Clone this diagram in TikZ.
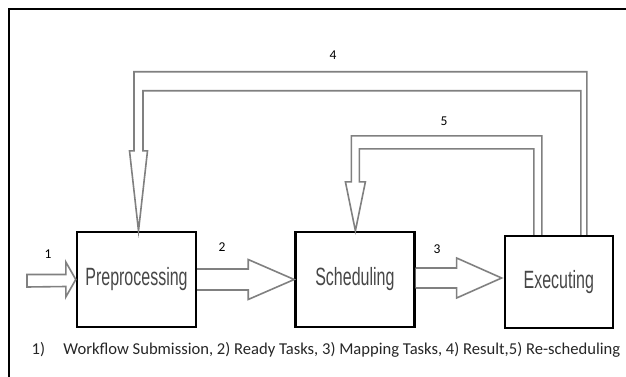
\documentclass[tikz,border=0pt]{standalone}
\usepackage{fontspec}
\setmainfont{Carlito}
\newfontfamily\narrowfont[FakeStretch=0.64]{Liberation Sans}
\usetikzlibrary{positioning,calc}

\begin{document}
\begin{tikzpicture}[
        x=1pt, y=-1pt,
        stage/.style={draw, line width=2.4pt, minimum width=119pt, minimum height=95pt, inner sep=0pt,
            font=\narrowfont\fontsize{25}{27}\selectfont, text=black!72},
        hollow/.style={draw=black!50, line width=1.6pt, fill=white, line join=miter},
        num/.style={font=\fontsize{13.5}{15}\selectfont},
        frame/.style={line width=2.8pt}
    ]
        \useasboundingbox (0,0) rectangle (626,377);
        \draw[frame] (9,377) -- (9,9) -- (626,9);

        % the three stages
        \node[stage] (pre) at (136.5,279.5) {Preprocessing};
        \node[stage, right=97pt of pre] (sched) {Scheduling};
        \node[stage, right=88pt of sched, minimum width=108pt, minimum height=92pt, yshift=-2.5pt] (exec) {Executing};

        % 1: submission
        \coordinate (in) at (27,280.5);
        \draw[hollow] ($(in)+(0,-6)$) -- ($(pre.west)+(-10,-5)$) -- ($(pre.west)+(-10,-17.5)$) -- (pre.west)
            -- ($(pre.west)+(-10,17.5)$) -- ($(pre.west)+(-10,7)$) -- ($(in)+(0,6.5)$) -- cycle;

        % 2: ready tasks
        \draw[hollow] ($(pre.east)+(0,-10.5)$) -- ($(sched.west)+(-46,-10.5)$) -- ($(sched.west)+(-46,-20)$)
            -- (sched.west) -- ($(sched.west)+(-46,20)$) -- ($(sched.west)+(-46,10.5)$) -- ($(pre.east)+(0,10.5)$);

        % 3: mapping tasks
        \coordinate (tip3) at ($(exec.west |- sched.east)+(-2,-1.5)$);
        \draw[hollow] ($(sched.east)+(0,-11.5)$) -- ($(tip3)+(-45,-10)$) -- ($(tip3)+(-45,-20)$)
            -- (tip3) -- ($(tip3)+(-45,20)$) -- ($(tip3)+(-45,10)$) -- ($(sched.east)+(0,8.5)$);

        % 4: result
        \draw[hollow] ($(exec.north)+(22,0)$) -- ($(exec.north)+(22,-144)$) -- ($(pre.north)+(6.5,-140)$)
            -- ($(pre.north)+(6.5,-80)$) -- ($(pre.north)+(11,-80)$) -- ($(pre.north)+(2,0)$)
            -- ($(pre.north)+(-7,-80)$) -- ($(pre.north)+(-2.5,-80)$) -- ($(pre.north)+(-2.5,-159)$)
            -- ($(exec.north)+(28,-163)$) -- ($(exec.north)+(28,0)$);

        % 5: re-scheduling
        \draw[hollow] ($(exec.north)+(-25,0)$) -- ($(exec.north)+(-25,-86)$) -- ($(sched.north)+(4.5,-82)$)
            -- ($(sched.north)+(4.5,-49)$) -- ($(sched.north)+(10.5,-49)$) -- ($(sched.north)+(0.5,0)$)
            -- ($(sched.north)+(-9.5,-49)$) -- ($(sched.north)+(-3.5,-49)$) -- ($(sched.north)+(-3.5,-95)$)
            -- ($(exec.north)+(-17,-99)$) -- ($(exec.north)+(-17,0)$);

        \node[num] (n1) at (48,254) {1};
        \node[num] (n2) at (222,247) {2};
        \node[num] (n3) at (437,249) {3};
        \node[num] (n4) at (333,55) {4};
        \node[num] (n5) at (444,121) {5};

        \node[font=\fontsize{16.6}{18}\selectfont, text=black!85] (legend) at (326,350)
            {1)\hspace{1.1em}Workflow Submission, 2) Ready Tasks, 3) Mapping Tasks, 4) Result,5) Re-scheduling};
\end{tikzpicture}
\end{document}
